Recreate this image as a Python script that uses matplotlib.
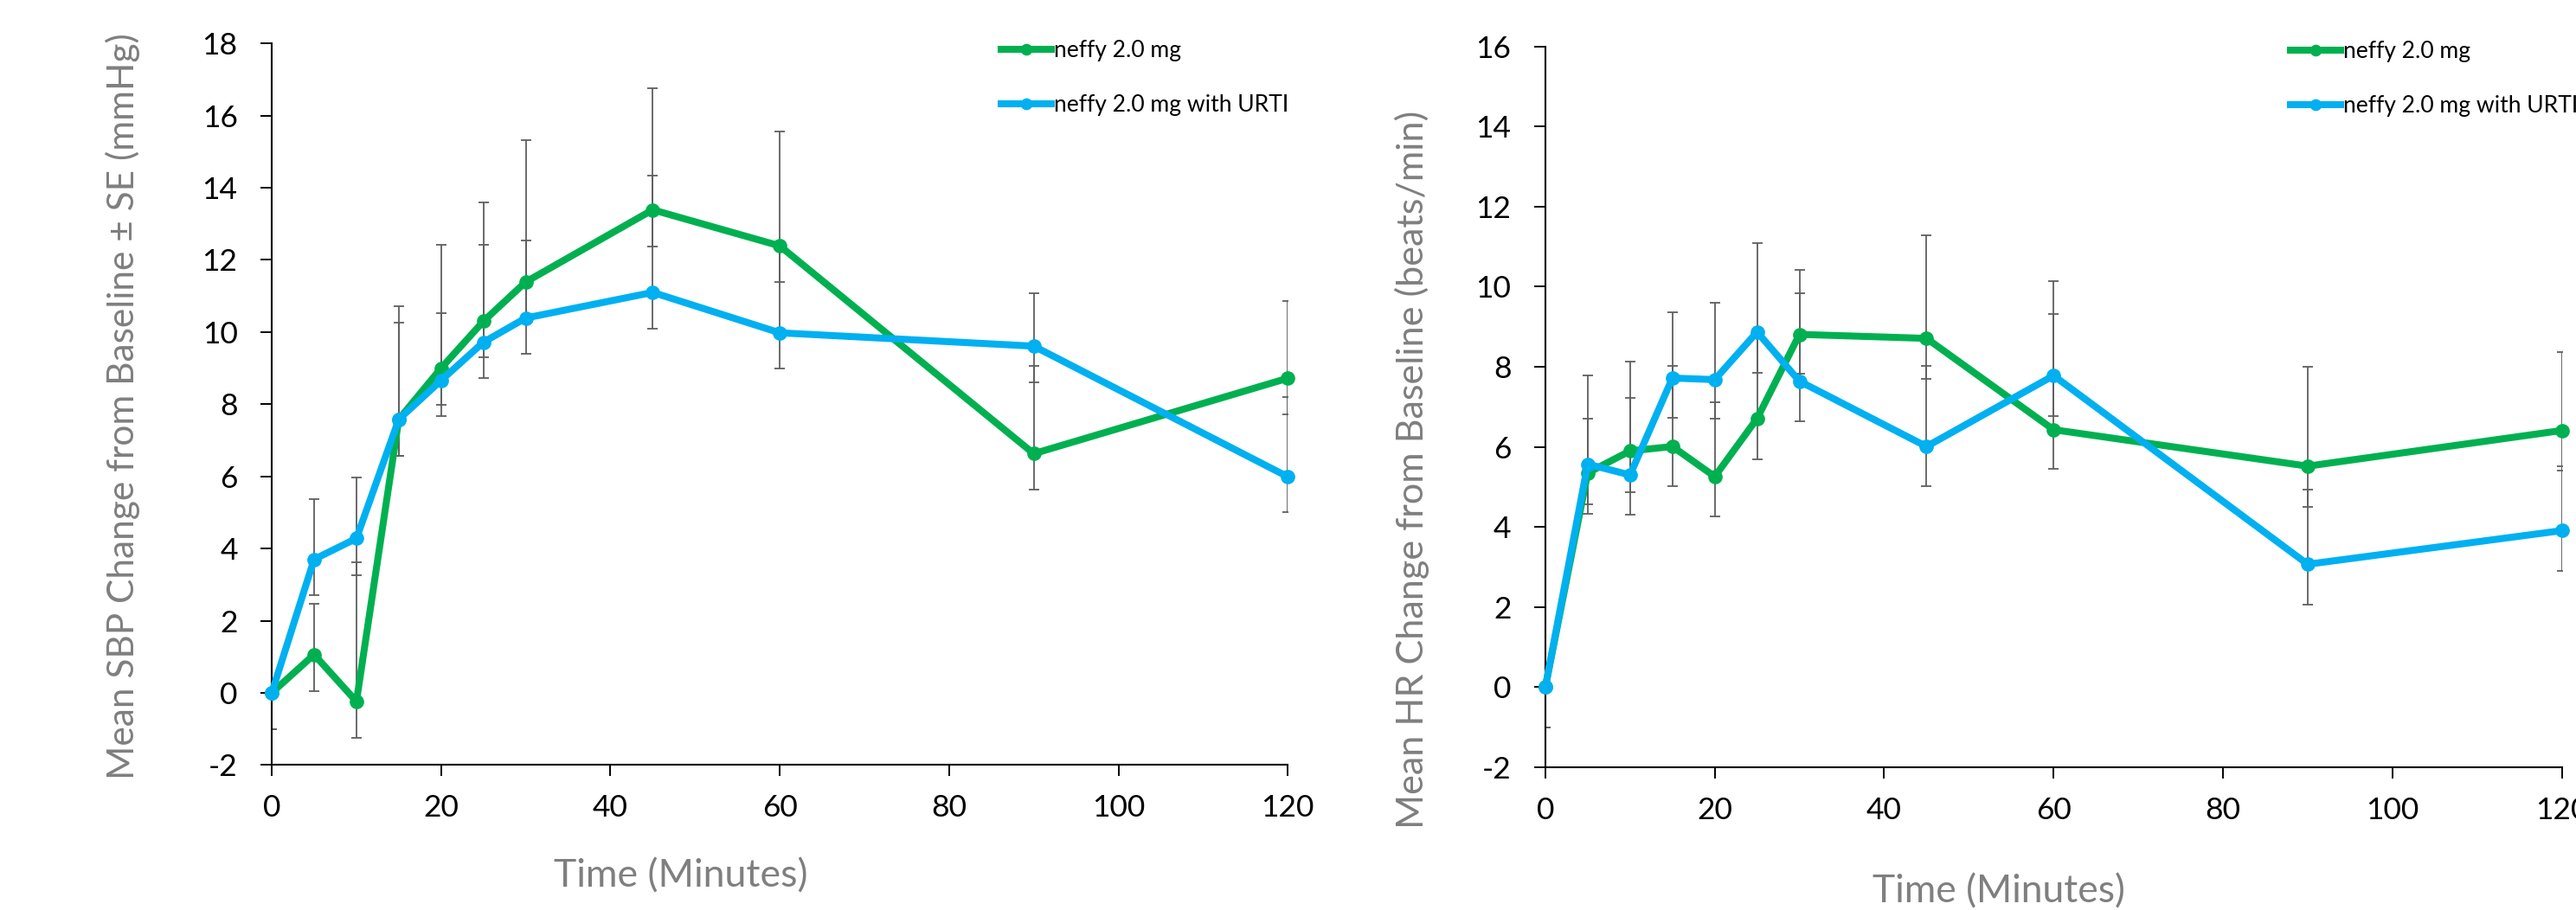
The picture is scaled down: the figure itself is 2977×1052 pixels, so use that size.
import matplotlib
matplotlib.use("Agg")
import matplotlib.pyplot as plt

plt.rcParams['font.family'] = ['Lato', 'DejaVu Sans']

# time points (minutes)
minutos = [0, 5, 10, 15, 20, 25, 30, 45, 60, 90, 120]

# SBP - mean change from baseline (mmHg)
sbp_neffy = [0, 1.06, -0.24, 7.58, 9.0, 10.3, 11.39, 13.39, 12.39, 6.63, 8.72]
sbp_urti = [0, 3.70, 4.28, 7.58, 8.66, 9.72, 10.39, 11.10, 9.98, 9.61, 5.99]
sbp_neffy_se_up = [0, 1.40, 3.86, 3.14, 3.41, 3.30, 3.93, 3.36, 3.17, 2.44, 2.14]
sbp_neffy_se_lo = [1.0, 1.01, 1.02, 1.02, 1.02, 1.0, 1.0, 1.02, 1.01, 1.0, 1.0]
sbp_urti_se_up = [0, 1.66, 1.69, 2.67, 1.86, 2.70, 2.16, 3.24, 2.41, 1.46, 2.20]
sbp_urti_se_lo = [1.0, 1.0, 1.01, 1.02, 1.0, 1.0, 0.99, 1.01, 0.98, 1.0, 0.99]

# HR - mean change from baseline (beats/min)
hr_neffy = [0, 5.35, 5.90, 6.01, 5.26, 6.71, 8.81, 8.71, 6.43, 5.52, 6.41]
hr_urti = [0, 5.57, 5.30, 7.72, 7.68, 8.87, 7.64, 6.01, 7.78, 3.07, 3.91]
hr_neffy_se_up = [0, 1.35, 1.33, 2.02, 1.86, 2.16, 1.61, 2.57, 2.89, 2.49, 1.95]
hr_neffy_se_lo = [1.0, 1.02, 1.03, 1.0, 1.0, 1.01, 0.98, 1.01, 0.97, 1.01, 0.99]
hr_urti_se_up = [0, 2.21, 2.82, 1.64, 1.93, 2.22, 2.20, 2.02, 2.36, 1.87, 1.61]
hr_urti_se_lo = [1.0, 1.0, 1.0, 1.0, 0.98, 1.01, 1.0, 1.0, 1.0, 1.01, 1.0]

rotulos = ['neffy 2.0 mg', 'neffy 2.0 mg with URTI']
verde = '#00B050'
azul = '#00B0F0'
cinza = '#7F7F7F'
DPI = 100


def painel(ax, neffy, urti, neffy_se, urti_se, ylim, yticks, ylabel):
    # barras de erro primeiro, por baixo das linhas
    for serie, se in [(neffy, neffy_se), (urti, urti_se)]:
        ax.errorbar(minutos, serie, yerr=se, fmt='none', ecolor='#5F5F5F',
                    elinewidth=1.3, capsize=4.3, capthick=1.3, zorder=2)
    ax.plot(minutos, neffy, color=verde, lw=5.8, marker='o', ms=11,
            label=rotulos[0], zorder=3, clip_on=False)
    ax.plot(minutos, urti, color=azul, lw=5.8, marker='o', ms=11,
            label=rotulos[1], zorder=4, clip_on=False)

    ax.set_xlim(0, 120)
    ax.set_xticks(range(0, 121, 20))
    ax.set_ylim(*ylim)
    ax.set_yticks(yticks)
    ax.set_yticklabels([str(v) for v in yticks])
    for lado in ['top', 'right']:
        ax.spines[lado].set_visible(False)
    for lado in ['left', 'bottom']:
        ax.spines[lado].set_linewidth(1.5)
    ax.tick_params(axis='both', direction='out', length=9.4, width=1.4,
                   labelsize=25.5, colors='black')
    ax.tick_params(axis='y', pad=19)
    ax.tick_params(axis='x', pad=15)
    ax.set_ylabel(ylabel, fontsize=30, color=cinza, va='center')
    ax.set_xlabel('Time (Minutes)', fontsize=30, color=cinza, va='center')


def ajustar(texto, alvo_px, vertical=False):
    # ajusta o tamanho da fonte para o comprimento medido na referencia
    for _ in range(3):
        fig.canvas.draw()
        bb = texto.get_window_extent()
        atual = bb.height if vertical else bb.width
        texto.set_fontsize(texto.get_fontsize() * alvo_px / atual)


fig = plt.figure(figsize=(29.77, 10.52), dpi=DPI)
ax1 = fig.add_axes([0.1055, 0.1594, 0.3944, 0.7928])
ax2 = fig.add_axes([0.5999, 0.1568, 0.3946, 0.7922])

painel(ax1, sbp_neffy, sbp_urti, [sbp_neffy_se_lo, sbp_neffy_se_up],
       [sbp_urti_se_lo, sbp_urti_se_up], (-2, 18), list(range(-2, 19, 2)),
       'Mean SBP Change from Baseline ± SE (mmHg)')
painel(ax2, hr_neffy, hr_urti, [hr_neffy_se_lo, hr_neffy_se_up],
       [hr_urti_se_lo, hr_urti_se_up], (-2, 16), list(range(-2, 17, 2)),
       'Mean HR Change from Baseline (beats/min)')

ax1.yaxis.set_label_coords(-0.1465, 0.497)
ax2.yaxis.set_label_coords(-0.131, 0.413)
ax1.xaxis.set_label_coords(0.403, -0.154)
ax2.xaxis.set_label_coords(0.446, -0.172)

ajustar(ax1.yaxis.label, 860, vertical=True)
ajustar(ax2.yaxis.label, 830, vertical=True)
ajustar(ax1.xaxis.label, 294)
ajustar(ax2.xaxis.label, 292)

# tamanho da legenda a partir da largura do texto "neffy 2.0 mg"
t = fig.text(0, 0, rotulos[0], fontsize=18)
ajustar(t, 147)
fs_leg = t.get_fontsize()
fig.canvas.draw()
altura_linha = t.get_window_extent().height
t.remove()
fs_px = fs_leg * DPI / 72

for ax, x0, yc in [(ax1, 1157, 90), (ax2, 2647, 91)]:
    pos = ax.get_position()
    bx = (x0 / (29.77 * DPI) - pos.x0) / pos.width
    by = ((1 - yc / (10.52 * DPI)) - pos.y0) / pos.height
    ax.legend(loc='center left', bbox_to_anchor=(bx, by), frameon=False,
              fontsize=fs_leg, handlelength=58 / fs_px,
              handletextpad=3 / fs_px,
              labelspacing=(63 - altura_linha) / fs_px,
              borderpad=0, borderaxespad=0, markerscale=0.8)

fig.savefig('out.png', dpi=DPI)
